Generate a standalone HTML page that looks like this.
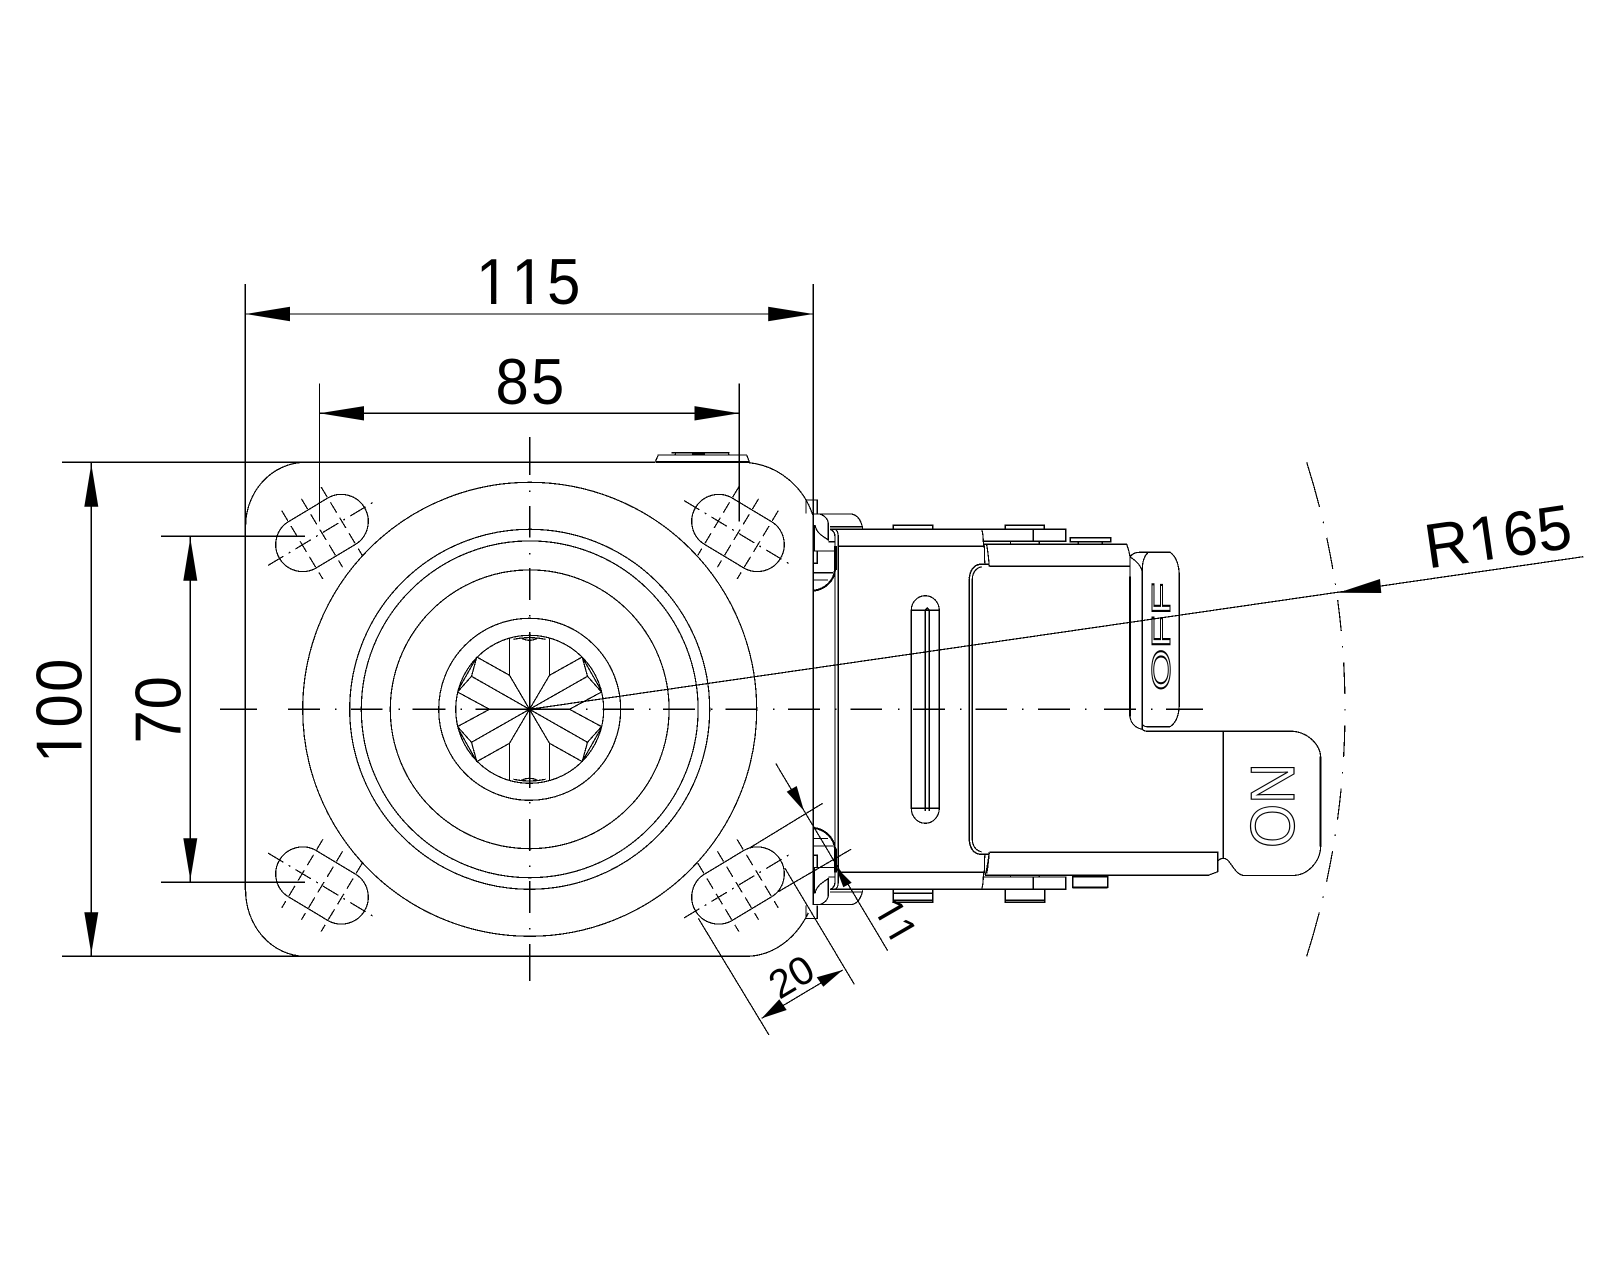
<!DOCTYPE html>
<html>
<head>
<meta charset="utf-8">
<style>
html,body{margin:0;padding:0;background:#fff;}
svg{display:block;}
text{font-family:"Liberation Sans",sans-serif;fill:#000;font-kerning:none;}
</style>
</head>
<body>
<svg xmlns="http://www.w3.org/2000/svg" width="1600" height="1280" viewBox="0 0 1600 1280">
<rect width="1600" height="1280" fill="#fff"/>
<defs>
<g id="slot">
  <rect x="-49.5" y="-27" width="99" height="54" rx="27" ry="27"/>
  <line x1="-63" y1="0" x2="63" y2="0" stroke-dasharray="18 6 2 6"/>
  <line x1="-23" y1="-40" x2="-23" y2="40" stroke-dasharray="12 6"/>
  <line x1="0" y1="-40" x2="0" y2="40" stroke-dasharray="12 6"/>
  <line x1="23" y1="-40" x2="23" y2="40" stroke-dasharray="12 6"/>
</g>
<g id="bracket">
  <path d="M806,513.3V500H817.3V513.3"/>
  <path d="M812.3,514H820C825,516 828.3,519 828.3,524V540C824,537 816,533 815,525"/>
  <path d="M820,514H851.7C857,515 861,520 862.7,528.3"/>
  <path d="M830,526.7H862.7"/>
  <path d="M814,525V551" stroke-width="2"/>
  <path d="M815,551H835.7"/>
  <path d="M828.3,541.7H835.7"/>
  <path d="M835.7,546V570" stroke-width="3"/>
  <path d="M814,551H817.3V563.3H814"/>
  <path d="M814,572.7H833M814,580H828"/>
  <path d="M835,570C834,580 826,589 814,590.7" stroke-width="2"/>
  <path d="M830,529.3C833,530 835,533 835,537"/>
  <path d="M835,529.3C837,530 838.3,533 838.3,537"/>
  <path d="M830,529.3H981.7C983,533 983.3,537 983.5,546"/>
  <path d="M838.3,546.3H984"/>
  <path d="M984,544.5C985,550 984,558 985,564.3"/>
  <path d="M986.7,545C988,551 988.5,558 989.3,566.3"/>
  <path d="M969.3,578.3C970,570 974,565 980,564.3H989" stroke-width="1.4"/>
  <path d="M972.3,578.3C973,572 976,568 981.7,566.7"/>
  <path d="M969.3,578.3V709.3M972.3,578.3V709.3"/>
  <path d="M893.3,529.3V525.3H932.7V529.3"/>
</g>
</defs>

<!-- text (foot serif of each digit 1 is masked, drawn beneath the line work) -->
<g transform="translate(476,304) scale(.92,1)">
  <text x="0" y="0" font-size="65" letter-spacing="2.5">115</text>
  <path fill="#fff" d="M4.5,-5.5H16.35V1H4.5ZM22.1,-5.5H33.8V1H22.1ZM43.1,-5.5H55V1H43.1ZM60.7,-5.5H72.4V1H60.7Z"/>
</g>
<text transform="translate(495.5,404) scale(.92,1)" font-size="65" letter-spacing="2.5">85</text>
<g transform="translate(81.7,763) rotate(-90) scale(.92,1)">
  <text x="0" y="0" font-size="65" letter-spacing="2.5">100</text>
  <path fill="#fff" d="M4.5,-5.5H16.35V1H4.5ZM22.1,-5.5H33.8V1H22.1Z"/>
</g>
<text transform="translate(180.7,743.5) rotate(-90) scale(.92,1)" font-size="65" letter-spacing="1">70</text>
<g transform="translate(1428,568.5) rotate(-8.24) scale(.98,1)">
  <text x="0" y="0" font-size="63">R165</text>
  <path fill="#fff" d="M49.9,-5.3H61.3V1H49.9ZM66.9,-5.3H78.3V1H66.9Z"/>
</g>
<text transform="translate(798.5,988.5) rotate(-31)" font-size="40" text-anchor="middle">20</text>
<g transform="translate(884,928) rotate(60)">
  <text x="-22.24" y="0" font-size="40">11</text>
  <path fill="#fff" d="M-19.4,-3.6H-12.18V.8H-19.4ZM-8.64,-3.6H-1.44V.8H-8.64ZM2.8,-3.6H10.06V.8H2.8ZM13.6,-3.6H20.8V.8H13.6Z"/>
</g>
<text transform="translate(1170,691) rotate(-90)" font-size="25.7" textLength="109" lengthAdjust="spacingAndGlyphs" style="fill:none;stroke:#000;stroke-width:1">OFF</text>
<text transform="translate(1294,848) rotate(-90)" font-size="62" textLength="85" lengthAdjust="spacingAndGlyphs" style="fill:none;stroke:#000;stroke-width:1.2">ON</text>

<g fill="none" stroke="#000" stroke-width="1.2" shape-rendering="crispEdges">
  <!-- circles -->
  <circle cx="529.7" cy="709.3" r="227"/>
  <circle cx="529.7" cy="709.3" r="180"/>
  <circle cx="529.7" cy="709.3" r="168.4"/>
  <circle cx="529.7" cy="709.3" r="139.4"/>
  <circle cx="529.7" cy="709.3" r="91"/>
  <circle cx="529.7" cy="709.3" r="74"/>

  <!-- octagon star -->
  <g transform="translate(529.5,709.3)">
    <path d="M-20,-71V-34L0,0L20,-34V-71"/>
    <path d="M-20,71V34L0,0L20,34V71"/>
    <path d="M-52.7,-52.3L-20,-34M52.7,-52.3L20,-34M-52.7,52.3L-20,34M52.7,52.3L20,34"/>
    <path d="M-58,-33L0,0L58,-33M-58,33L0,0L58,33"/>
    <path d="M-72,-17.3L-40,0L-72,17.3M72,-17.3L40,0L72,17.3"/>
    <path d="M-52.7,-52.3L-58,-33L-72,-17.3M-52.7,-52.3L-71,-20M52.7,-52.3L58,-33L72,-17.3M52.7,-52.3L71,-20"/>
    <path d="M-52.7,52.3L-58,33L-72,17.3M-52.7,52.3L-71,20M52.7,52.3L58,33L72,17.3M52.7,52.3L71,20"/>
    <path d="M-16,-70Q0,-73.5 16,-70M-8,-71Q0,-67 8,-71M-16,70Q0,73.5 16,70M-8,71Q0,67 8,71"/>
    <circle cx="0" cy="0" r="2" fill="#000"/>
  </g>

  <!-- plate -->
  <path d="M304,462.3A60,64 0 0 0 245.6,527"/>
  <path d="M245.6,890A60,66 0 0 0 304,956.3"/>
  <path d="M749.3,462.7C780,466 804,488 812.7,515"/>
  <path d="M808.3,913C795,940 772,956 746.7,956.3"/>
  <path d="M62,462.3H655"/>
  <path d="M655.3,462H749.3" stroke-width="2"/>
  <path d="M62,956.3H747"/>
  <path d="M655.3,461.7L658.3,455H746.7L749.3,461.7"/>
  <path d="M671.7,452.7H729.3M675,455L676,452.7M729,455L728,452.7"/>
  <path d="M692,454.5H705" stroke-width="2"/>

  <!-- slots -->
  <use href="#slot" transform="translate(322,533) rotate(-31)"/>
  <use href="#slot" transform="translate(738,533) rotate(31)"/>
  <use href="#slot" transform="translate(322,885.5) rotate(31)"/>
  <use href="#slot" transform="translate(738,885.5) rotate(-31)"/>

  <!-- center lines -->
  <path d="M220,709.3H257M288,709.3H320M335,709.3H336.5M351,709.3H382.7M398.5,709.3H400M412.7,709.3H445.7M460.5,709.3H462M475.7,709.3H570M586,709.3H587.5M602.7,709.3H634M649,709.3H650.5M663,709.3H695M711,709.3H712.5M725.5,709.3H757M773,709.3H774.5M788,709.3H820M835,709.3H836.5M850.5,709.3H882M898,709.3H899.5M913,709.3H945M960,709.3H961.5M975.5,709.3H1007M1022,709.3H1023.5M1038,709.3H1070M1085,709.3H1086.5M1104,709.3H1136M1151,709.3H1152.5M1166,709.3H1203"/>
  <path d="M529.7,437V475M529.7,490.5V492M529.7,506V537.5M529.7,553V554.5M529.7,568V600M529.7,615V616.5M529.7,632V788M529.7,802V803.5M529.7,819V851M529.7,865.5V867M529.7,881V913M529.7,928V929.5M529.7,944V981"/>

  <!-- extension lines -->
  <path d="M245.3,284V890"/>
  <path d="M813.3,284V904"/>
  <path d="M319.4,383.3V521.7"/>
  <path d="M739.3,383.3V521.7"/>
  <path d="M161,536.3H305M161,882.3H305"/>

  <!-- dimension lines -->
  <path d="M245.3,314H813.3"/>
  <path d="M319.4,413.3H739.3"/>
  <path d="M91.3,462.3V956.3"/>
  <path d="M190.3,536.3V882.3"/>
  <path d="M529.7,709.3L1583.3,556.7"/>
  <path d="M775.7,763.3L887.7,950.7"/>
  <path d="M750,847.7L822.7,803.3"/>
  <path d="M778.3,891.7L851,849.3"/>
  <path d="M785,868.3L854.3,984.3"/>
  <path d="M698.3,918.3L769,1035"/>
  <path d="M761.7,1018.3L842.7,970"/>

  <!-- wheel radius arc -->
  <path d="M1306.7,462.3A815.3,815.3 0 0 1 1306.7,956.3" stroke-dasharray="46.7 15 1.5 15 31.5 15 1.5 15 31.5 15 1.5 15 31.5 15 1.5 15 31.5 15 1.5 15 31.5 15 1.5 15 31.5 15 1.5 15 46.7"/>

  <!-- bracket top + mirrored bottom -->
  <use href="#bracket"/>
  <use href="#bracket" transform="translate(0,1418.6) scale(1,-1)"/>

  <!-- channel verticals -->
  <path d="M835,537V882M838.3,537V882"/>

  <!-- channel slot -->
  <path d="M911.3,610.3A14,14.6 0 0 1 939.3,610.3V808.3A14,15 0 0 1 911.3,808.3Z"/>
  <path d="M911.3,610.3H939.3M911.3,808.3H939.3"/>
  <path d="M925.3,811V610L927.3,608L929.3,610V811"/>

  <!-- top parts -->
  <path d="M1005.3,529.3V525.3H1044.3V529.3"/>
  <path d="M981.7,529.3H1065.7V541.3H983.3M1033.3,529.3V541.3"/>
  <path d="M1010.5,541.3V544.3M1039.3,541.3V544.3"/>
  <path d="M1070.3,537.7H1110.7V541.7H1070.3Z"/>
  <path d="M1078.3,541.7V544.3M1102.3,541.7V544.3"/>
  <path d="M984,544.3H1126.7C1128,548 1129.5,552 1130,557"/>
  <path d="M989.3,566.3H1130"/>

  <!-- bottom parts -->
  <path d="M893.3,889.3V902.3H932.7V889.3M893.3,900.3H932.7"/>
  <path d="M1005.3,889.3V902.3H1044.7V889.3M1005.3,900.3H1044.7"/>
  <path d="M983.3,877H1065.7V889.3H981.7M1033.3,877V889.3"/>
  <path d="M1010.5,875.3V877M1039.3,875.3V877"/>
  <path d="M1072.7,876.7H1107.7V887.3H1072.7Z"/>
  <path d="M1072.7,887.6H1107.7" stroke-width="2"/>
  <path d="M989.3,852.3H1217.7V871.7L1208.3,875.3H985"/>
  <path d="M989.3,852.3C988,862 987,870 985,875.3"/>

  <!-- pedal -->
  <path d="M1130,576.7V716.7" stroke-width="2"/>
  <path d="M1130,557V576.7"/>
  <path d="M1142.3,570V729.3"/>
  <path d="M1130,557C1133,553 1136,552.3 1140,552.3H1170C1176,556 1179.3,565 1179.3,576.7V703C1179.3,715 1176,723 1170,726.7H1147C1144,726.7 1142.3,725 1142.3,723"/>
  <path d="M1130,557C1135,560 1141,565 1142.3,572C1142,563 1144,556 1148.3,552.3"/>
  <path d="M1130,716.7C1131,724 1136,728 1142.3,729.3C1144,731 1145,731.3 1147,731.3H1293.3C1309,733 1320,745 1320.7,756.7V846.7C1320,862 1308,875 1293.3,875.5H1243.3C1236,874 1233,866 1228,860.5C1225,857.5 1221,857.5 1218,861"/>
  <path d="M1320.7,756.7V846.7" stroke-width="2"/>
  <path d="M1223.3,731.3V858.3"/>
</g>

<!-- arrowheads -->
<g fill="#000" stroke="none">
  <polygon points="245.3,314 290,306.8 290,321.2"/>
  <polygon points="813.3,314 768.2,306.8 768.2,321.2"/>
  <polygon points="319.4,413.3 364,406.1 364,420.5"/>
  <polygon points="739.3,413.3 694.5,406.1 694.5,420.5"/>
  <polygon points="91.3,464 84.3,506.7 98.3,506.7"/>
  <polygon points="91.3,954 84.3,912.3 98.3,912.3"/>
  <polygon points="190.3,538 183.3,580.7 197.3,580.7"/>
  <polygon points="190.3,880 183.3,838.3 197.3,838.3"/>
  <polygon points="1338.3,592.7 1380,579 1381.3,593"/>
  <polygon points="804,811 786.7,791.7 796.7,786"/>
  <polygon points="835.7,866.7 843.3,887.3 851.7,882.7"/>
  <polygon points="761.7,1018.3 779.3,999.3 786.7,1010"/>
  <polygon points="842.7,970 816.7,977.3 823.3,986.7"/>
</g>
</svg>
</body>
</html>
